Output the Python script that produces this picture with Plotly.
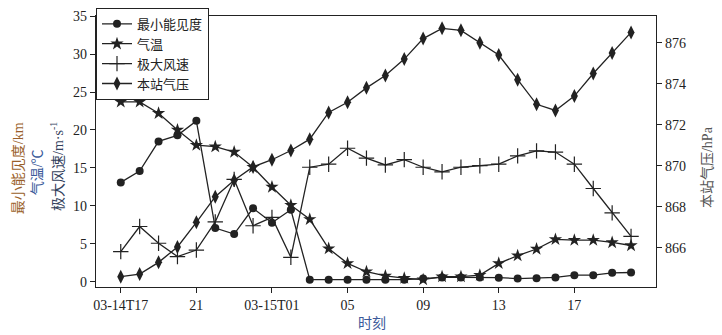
import plotly.graph_objects as go

hours = list(range(28))  # 03-14T17 ... 03-15T20
tick_vals = [0, 4, 8, 12, 16, 20, 24]
tick_text = ["03-14T17", "21", "03-15T01", "05", "09", "13", "17"]

visibility = [13.1, 14.6, 18.5, 19.3, 21.2, 7.1, 6.3, 9.7, 7.8, 9.5,
              0.3, 0.3, 0.3, 0.3, 0.3, 0.3, 0.45, 0.6, 0.6, 0.6,
              0.57, 0.45, 0.5, 0.6, 0.9, 0.9, 1.2, 1.25]
temperature = [23.7, 23.7, 22.2, 20.0, 18.0, 17.8, 17.1, 15.1, 12.5, 10.1,
               8.25, 4.4, 2.45, 1.35, 0.8, 0.5, 0.3, 0.7, 0.7, 0.9,
               2.45, 3.46, 4.34, 5.6, 5.5, 5.5, 5.2, 4.8]
gust = [4.0, 7.3, 5.1, 3.35, 4.2, 7.9, 13.5, 7.4, 8.5, 3.25,
        15.1, 15.5, 17.6, 16.3, 15.4, 16.1, 15.1, 14.5, 15.1, 15.3,
        15.5, 16.6, 17.25, 17.1, 15.5, 12.3, 9.1, 6.0]
pressure = [864.6, 864.73, 865.3, 866.05, 867.25, 868.5, 869.3, 869.95, 870.3, 870.75,
            871.3, 872.6, 873.1, 873.8, 874.4, 875.2, 876.2, 876.7, 876.6, 876.0,
            875.4, 874.2, 873.0, 872.7, 873.4, 874.5, 875.5, 876.5]

names = ["最小能见度", "气温", "极大风速", "本站气压"]
LC = "#222222"
FONT = "Liberation Serif, Noto Sans CJK SC, serif"

fig = go.Figure()
fig.add_trace(go.Scatter(x=hours, y=visibility, name=names[0], mode="lines+markers",
                         line=dict(color=LC, width=1.3),
                         marker=dict(symbol="circle", size=8, color=LC)))
fig.add_trace(go.Scatter(x=hours, y=temperature, name=names[1], mode="lines+markers",
                         line=dict(color=LC, width=1.3),
                         marker=dict(symbol="star", size=10, color=LC)))
fig.add_trace(go.Scatter(x=hours, y=gust, name=names[2], mode="lines+markers",
                         line=dict(color=LC, width=1.3),
                         marker=dict(symbol="cross-thin-open", size=11, color=LC,
                                     line=dict(color=LC, width=1.2))))
fig.add_trace(go.Scatter(x=hours, y=pressure, name=names[3], mode="lines+markers", yaxis="y2",
                         line=dict(color=LC, width=1.3),
                         marker=dict(symbol="diamond-tall", size=10, color=LC)))

ann = [
    dict(text="最小能见度/km", x=-0.139, y=0.439, color="#9a5f2a"),
    dict(text="气温/℃", x=-0.105, y=0.424, color="#3b5a9a"),
    dict(text="极大风速/m·s<sup>-1</sup>", x=-0.0696, y=0.443, color="#33415c"),
    dict(text="本站气压/hPa", x=1.093, y=0.443, color="#555555"),
]
annotations = []
for a in ann:
    annotations.append(dict(text=a["text"], x=a["x"], y=a["y"], xref="paper", yref="paper",
                            textangle=-90, showarrow=False, xanchor="center", yanchor="middle",
                            font=dict(family=FONT, size=14, color=a["color"])))
annotations.append(dict(text="时刻", x=0.493, y=-0.133, xref="paper", yref="paper",
                        showarrow=False, xanchor="center", yanchor="middle",
                        font=dict(family=FONT, size=14, color="#3b5a9a")))

fig.update_layout(
    width=722, height=335,
    margin=dict(l=96, r=66, t=16, b=48, autoexpand=False),
    paper_bgcolor="white", plot_bgcolor="white",
    font=dict(family=FONT, size=14, color="#222"),
    showlegend=True,
    legend=dict(x=0, y=1.03, xanchor="left", yanchor="top",
                bordercolor="#222", borderwidth=1, bgcolor="white",
                font=dict(size=13, family=FONT), tracegroupgap=0,
                itemwidth=30),
    annotations=annotations,
    xaxis=dict(range=[-1.31, 28.32], tickvals=tick_vals, ticktext=tick_text,
               showline=True, linecolor="#222", linewidth=1.2, mirror=True,
               ticks="outside", ticklen=5, tickcolor="#222", showgrid=False, zeroline=False,
               automargin=False, tickfont=dict(size=14)),
    yaxis=dict(range=[-0.66, 35], tickvals=[0, 5, 10, 15, 20, 25, 30, 35],
               showline=True, linecolor="#222", linewidth=1.2,
               ticks="outside", ticklen=5, tickcolor="#222", showgrid=False, zeroline=False,
               automargin=False, tickfont=dict(size=14)),
    yaxis2=dict(range=[864.1, 877.3], tickvals=[864, 866, 868, 870, 872, 874, 876],
                overlaying="y", side="right",
                showline=True, linecolor="#222", linewidth=1.2,
                ticks="outside", ticklen=5, tickcolor="#222", showgrid=False, zeroline=False,
                automargin=False, tickfont=dict(size=14)),
)

fig.write_html("out.html", config={"displayModeBar": False},
               post_script="document.body.style.margin='0';document.body.style.overflow='hidden';")
